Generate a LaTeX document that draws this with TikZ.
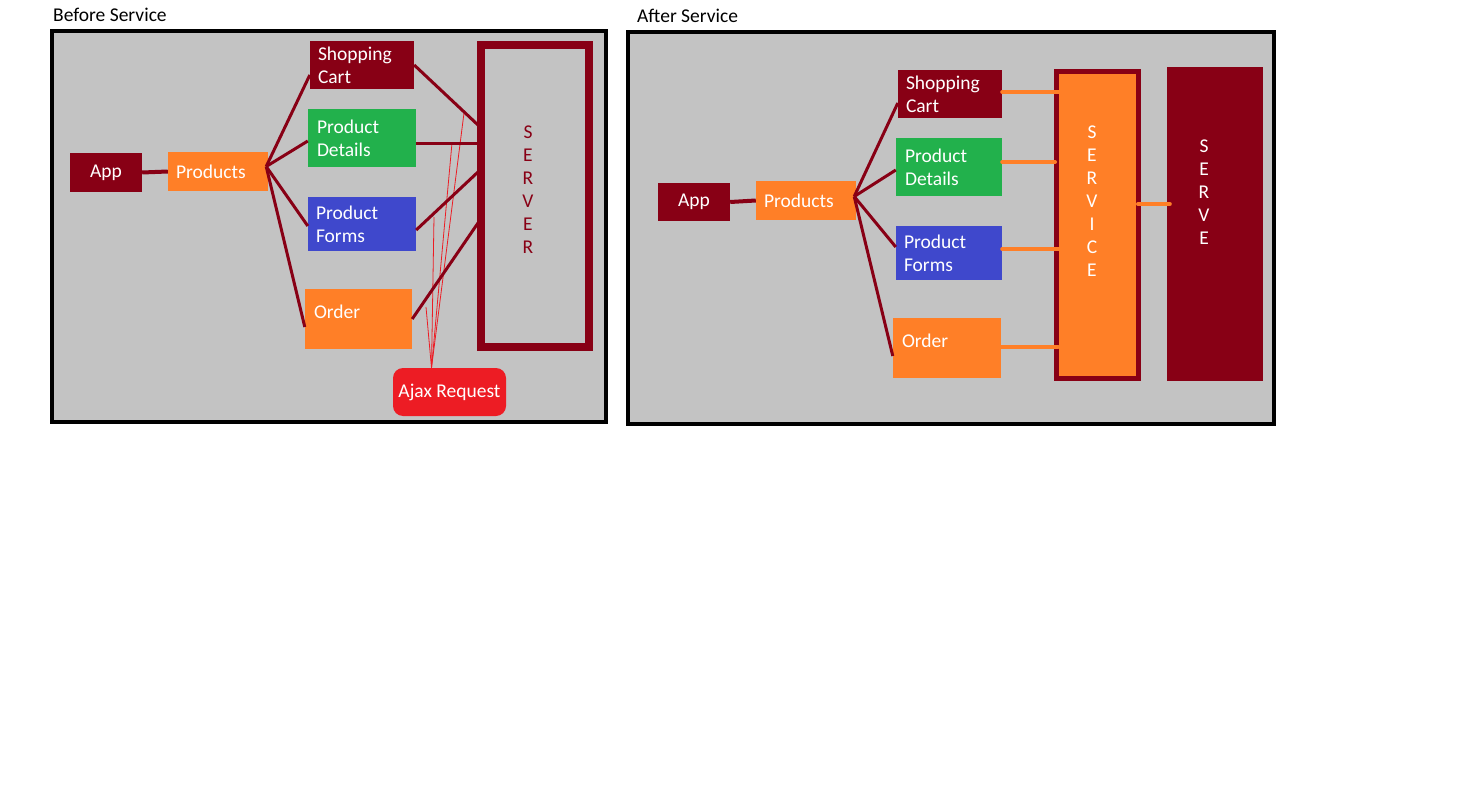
\documentclass[tikz,border=0pt]{standalone}
\usepackage{fontspec}
\setmainfont{Carlito}
\usepackage{tikz}
\usetikzlibrary{positioning}

\definecolor{dkred}{HTML}{880015}
\definecolor{orng}{HTML}{FF7F27}
\definecolor{grn}{HTML}{22B14C}
\definecolor{blu}{HTML}{3F48CC}
\definecolor{ajaxred}{HTML}{ED1C24}
\definecolor{panelgray}{HTML}{C3C3C3}

\begin{document}
\begin{tikzpicture}[x=1pt, y=-1pt,
            panel/.style={draw=black, fill=panelgray, line width=4pt},
            box/.style={rectangle, inner xsep=8pt, inner ysep=0pt, text=white, align=left, font=\fontsize{19.5}{23}\selectfont},
            letters/.style={inner sep=0pt, align=center, font=\fontsize{19.5}{23}\selectfont},
            title/.style={anchor=base west, inner sep=0pt, font=\fontsize{19.5}{23}\selectfont},
            wire/.style={draw=dkred, line width=3pt},
            feed/.style={draw=orng, line width=4pt, line cap=round},
            ajaxline/.style={draw=ajaxred, line width=0.8pt}]
    \useasboundingbox (0,0) rectangle (1484,800);

    % before service
    \node[title] (before) at (53,22) {Before Service};
    \draw[panel] (52,31) rectangle (606,422);

    \node[box, fill=dkred, minimum width=72pt, minimum height=39pt, align=center] (app) at (106,172.5) {App};
    \node[box, fill=orng, text width=84pt, minimum height=39pt] (products) at (218,171.5) {Products};
    \node[box, fill=dkred, text width=88pt, minimum height=48pt] (cart) at (362,65) {Shopping\\Cart};
    \node[box, fill=grn, text width=90pt, minimum height=58pt, inner xsep=9pt] (details) at (362,138) {Product\\Details};
    \node[box, fill=blu, text width=92pt, minimum height=54pt] (forms) at (362,224) {Product\\Forms};
    \node[box, fill=orng, text width=89pt, minimum height=60pt, inner xsep=9pt, text depth=14pt] (order) at (358.5,319) {Order};
    \node[draw=dkred, line width=8pt, minimum width=108pt, minimum height=302pt, inner sep=0pt] (server) at (535,196) {};
    \node[letters, text=dkred] (serverlbl) at (528,190) {S\\E\\R\\V\\E\\R};

    \coordinate (hit1) at (464,113);
    \coordinate (hit2) at (452,143);
    \coordinate (hit3) at (434,217);
    \coordinate (hit4) at (426,307);
    \node[box, fill=ajaxred, rounded corners=10pt, minimum width=113pt, minimum height=48pt, inner xsep=0pt, align=center] (ajax) at (449.5,392) {Ajax Request};
    \foreach \h in {hit1,hit2,hit3,hit4}
        \draw[ajaxline] ([xshift=-18pt]ajax.north) -- (\h);

    \draw[wire, line width=4pt] (app.east) -- (products.west);
    \draw[wire] ([xshift=-2pt,yshift=5pt]products.east) -- ([yshift=-10pt]cart.west);
    \draw[wire] ([xshift=-2pt,yshift=5pt]products.east) -- ([yshift=-3pt]details.west);
    \draw[wire] ([xshift=-2pt,yshift=5pt]products.east) -- ([yshift=-2pt]forms.west);
    \draw[wire] ([xshift=-2pt,yshift=5pt]products.east) -- ([yshift=-8pt]order.west);

    \draw[wire] (cart.east) -- ([xshift=1pt,yshift=71pt]server.west);
    \draw[wire] ([yshift=-5pt]details.east) -- ([xshift=1pt,yshift=53pt]server.west);
    \draw[wire] ([yshift=-6pt]forms.east) -- ([xshift=1pt,yshift=24pt]server.west);
    \draw[wire] (order.east) -- ([xshift=1pt,yshift=-27pt]server.west);

    % after service
    \node[title] (after) at (637,23) {After Service};
    \draw[panel] (628,32) rectangle (1274,424);

    \node[box, fill=dkred, minimum width=72pt, minimum height=38pt, align=center] (app2) at (694,202) {App};
    \node[box, fill=orng, text width=84pt, minimum height=39pt] (products2) at (806,200.5) {Products};
    \node[box, fill=dkred, text width=88pt, minimum height=48pt] (cart2) at (950,94) {Shopping\\Cart};
    \node[box, fill=grn, text width=88pt, minimum height=58pt, inner xsep=9pt] (details2) at (949,167) {Product\\Details};
    \node[box, fill=blu, text width=90pt, minimum height=54pt] (forms2) at (949,253) {Product\\Forms};
    \node[box, fill=orng, text width=90pt, minimum height=60pt, inner xsep=9pt, text depth=14pt] (order2) at (947,348) {Order};
    \node[draw=dkred, fill=orng, line width=5pt, minimum width=82pt, minimum height=307pt, inner sep=0pt] (service) at (1097.5,225) {};
    \node[letters, text=white] (servicelbl) at (1092,201) {S\\E\\R\\V\\I\\C\\E};
    \node[fill=dkred, minimum width=96pt, minimum height=314pt, inner sep=0pt] (serve) at (1215,224) {};
    \node[letters, text=white] (servelbl) at (1204,192) {S\\E\\R\\V\\E};

    \draw[wire, line width=4pt] (app2.east) -- (products2.west);
    \draw[wire] ([xshift=-2pt,yshift=4pt]products2.east) -- ([yshift=-9pt]cart2.west);
    \draw[wire] ([xshift=-2pt,yshift=4pt]products2.east) -- ([yshift=-3pt]details2.west);
    \draw[wire] ([xshift=-2pt,yshift=4pt]products2.east) -- ([yshift=6pt]forms2.west);
    \draw[wire] ([xshift=-2pt,yshift=4pt]products2.east) -- ([yshift=-8pt]order2.west);

    \draw[feed] ([yshift=2pt]cart2.east) -- ([xshift=5pt,yshift=133pt]service.west);
    \draw[feed] ([yshift=5pt]details2.east) -- ([xshift=1pt,yshift=63pt]service.west);
    \draw[feed] ([yshift=4pt]forms2.east) -- ([xshift=5pt,yshift=-24pt]service.west);
    \draw[feed] ([yshift=1pt]order2.east) -- ([xshift=4pt,yshift=-122pt]service.west);
    \draw[feed] ([xshift=-3pt,yshift=21pt]service.east) -- ([xshift=3pt,yshift=20pt]serve.west);
\end{tikzpicture}
\end{document}
